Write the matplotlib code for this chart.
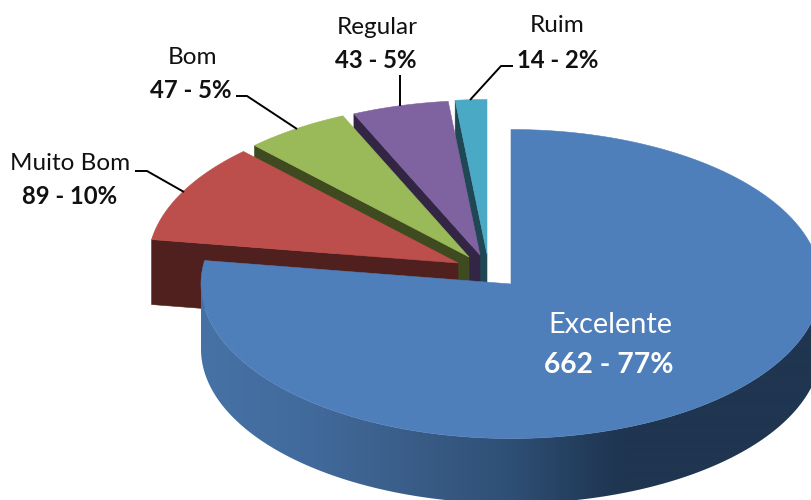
import numpy as np
import matplotlib
matplotlib.use("Agg")
import matplotlib.pyplot as plt
from matplotlib.patches import Polygon
from matplotlib.colors import to_rgb

categories = ["Excelente", "Muito Bom", "Bom", "Regular", "Ruim"]
values = [662, 89, 47, 43, 14]
percents = [77, 10, 5, 5, 2]

top_colors = ["#4f7fbb", "#bc4f4c", "#9ab958", "#7f62a0", "#4aaac5"]
side_colors = ["#3f6593", "#4f201e", "#3f4a20", "#322644", "#1f4754"]
tips = [(511, 284), (458, 263), (469, 257), (480, 255), (487, 254)]
RX, RY, DEPTH = 310, 154.5, 65

fig = plt.figure(figsize=(8.11, 5), dpi=100)
ax = fig.add_axes([0, 0, 1, 1])

edges = np.concatenate([[0], np.cumsum(values)]) / sum(values) * 360.0


def arc(tip, a0, a1, n=300):
    t = np.radians(np.linspace(a0, a1, n))
    return np.column_stack([tip[0] + RX * np.sin(t), tip[1] - RY * np.cos(t)])


grad_x = [201, 300, 390, 507, 587, 625, 811]
grad_c = np.array([to_rgb(c) for c in ["#4672a6", "#426b9d", "#3c608c", "#2f5076", "#233c5b", "#1f3550", "#1f3550"]])
xs_grad = np.linspace(195, 811, 616)
gradient = np.stack([np.interp(xs_grad, grad_x, grad_c[:, k]) for k in range(3)], axis=-1)[np.newaxis, :, :]

# draw back to front: smallest slice first, big slice last
for i in range(len(values) - 1, -1, -1):
    tip, a0, a1 = tips[i], edges[i], edges[i + 1]
    pts = arc(tip, a0, a1)
    if i > 0:
        start = pts[0]
        face = [tip, start, (start[0], start[1] + DEPTH), (tip[0], tip[1] + DEPTH)]
        ax.add_patch(Polygon(face, closed=True, fc=side_colors[i], ec=side_colors[i], lw=0.4, zorder=i * -10 + 50))
    else:
        wall = arc(tip, max(a0, 90), min(a1, 270), 500)
        shape = np.vstack([wall, wall[::-1] + [0, DEPTH]])
        clip = Polygon(shape, closed=True, transform=ax.transData, fc="none", ec="none")
        ax.add_patch(clip)
        img = ax.imshow(gradient, extent=(195, 811, 510, 200), aspect="auto", zorder=50, interpolation="bilinear")
        img.set_clip_path(clip)
    ax.add_patch(Polygon(np.vstack([[tip], pts]), closed=True, fc=top_colors[i], ec=top_colors[i],
                         lw=0.4, zorder=i * -10 + 51))

ax.set_xlim(0, 811)
ax.set_ylim(500, 0)
ax.axis("off")

FONT = "Lato"
label_pos = [(610, 325, 609, 365), (70, 164, 70, 197), (192, 57, 191, 90), (377, 28, 376, 61), (557, 26, 558, 60)]
for i, (x1, y1, x2, y2) in enumerate(label_pos):
    color = "white" if i == 0 else "#111111"
    ax.text(x1, y1, categories[i], ha="center", va="center", color=color,
            fontsize=20.8 if i == 0 else 17.5, family=FONT, zorder=100)
    ax.text(x2, y2, f"{values[i]} - {percents[i]}%", ha="center", va="center", color=color,
            fontsize=20.3 if i == 0 else 17.2, family=FONT, weight="bold", zorder=100)

leaders = [
    [(135, 171), (147, 171), (184, 192)],
    [(236, 96), (247, 96), (297, 129)],
    [(400, 75), (400, 106)],
    [(513, 66), (501, 66), (470, 100)],
]
for line in leaders:
    xs, ys = zip(*line)
    ax.plot(xs, ys, color="black", lw=1.4, zorder=90, solid_capstyle="butt")

fig.savefig("out.png", dpi=100)
